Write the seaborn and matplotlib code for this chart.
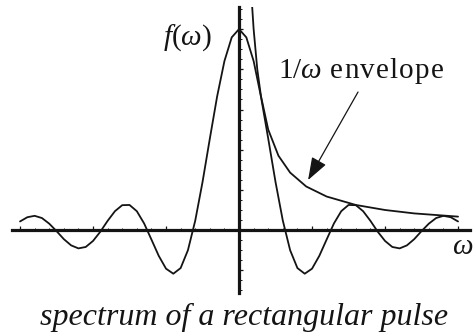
import matplotlib
matplotlib.use("Agg")
import matplotlib.pyplot as plt
import matplotlib.transforms as mtransforms
from matplotlib.ticker import MultipleLocator
import seaborn as sns
import pandas as pd

# f(omega) sampled every 0.5 from -15 to 15
omega = [x * 0.5 for x in range(-30, 31)]
f_right = [1.00, 0.959, 0.841, 0.665, 0.455, 0.239, 0.047, -0.100, -0.189, -0.217,
           -0.192, -0.128, -0.047, 0.033, 0.094, 0.125, 0.124, 0.094, 0.046, -0.008,
           -0.054, -0.084, -0.091, -0.076, -0.045, -0.005, 0.032, 0.060, 0.071, 0.064,
           0.043]
f_vals = f_right[:0:-1] + f_right

# 1/omega envelope
env_omega = [0.9, 1.0, 1.25, 1.5, 2.0, 2.7, 3.5, 4.6, 6.0, 8.0, 10.0, 12.0, 15.0]
env_vals = [1.111, 1.000, 0.800, 0.667, 0.500, 0.370, 0.286, 0.217, 0.167, 0.125,
            0.100, 0.083, 0.067]

spectrum = pd.DataFrame({"omega": omega, "f": f_vals})
envelope = pd.DataFrame({"omega": env_omega, "f": env_vals})

sns.set_style("white")
plt.rcParams["font.family"] = ["Liberation Serif", "DejaVu Serif"]
plt.rcParams["mathtext.fontset"] = "custom"
plt.rcParams["mathtext.rm"] = "Liberation Serif"
plt.rcParams["mathtext.it"] = "Liberation Serif:italic"

fig = plt.figure(figsize=(4.73, 3.34), dpi=100)
ax = fig.add_axes([12 / 473, 41 / 334, 458 / 473, 286 / 334])

ink = "#141414"
sns.lineplot(data=spectrum, x="omega", y="f", ax=ax, color=ink, lw=1.3,
             sort=False, estimator=None)
sns.lineplot(data=envelope, x="omega", y="f", ax=ax, color=ink, lw=1.3,
             sort=False, estimator=None)

ax.set_xlim(-15.55, 15.82)
ax.set_ylim(-0.313, 1.11)
ax.set_xlabel("")
ax.set_ylabel("")

# axes crossing at the origin
for side in ("top", "right"):
    ax.spines[side].set_visible(False)
ax.spines["left"].set_position(("data", 0))
ax.spines["bottom"].set_position(("data", 0))
for side in ("left", "bottom"):
    ax.spines[side].set_linewidth(2.3)
    ax.spines[side].set_color(ink)

ax.xaxis.set_major_locator(MultipleLocator(5))
ax.xaxis.set_minor_locator(MultipleLocator(1))
ax.yaxis.set_major_locator(MultipleLocator(0.2))
ax.yaxis.set_minor_locator(MultipleLocator(0.05))
ax.tick_params(which="both", direction="in", labelbottom=False, labelleft=False,
               color=ink, bottom=True, left=True)
ax.tick_params(which="major", length=3, width=0.9)
ax.tick_params(which="minor", length=1.8, width=0.7)

# labels
ax.text(-5.2, 0.958, r"$f(\omega)$", fontsize=21, color=ink, ha="left", va="center")
ax.text(14.6, -0.085, r"$\omega$", fontsize=21, color=ink, ha="left", va="center",
        clip_on=False)

# "1/ω envelope" with widened letter spacing
renderer = fig.canvas.get_renderer()
t = ax.text(2.67, 0.756, r"$1/\omega$", fontsize=21, color=ink, ha="left",
            va="baseline")
w = t.get_window_extent(renderer).width
offset = w + 8
for ch in "envelope":
    tr = mtransforms.offset_copy(ax.transData, fig=fig, x=offset * 72 / fig.dpi,
                                 y=0, units="points")
    c = ax.text(2.67, 0.756, ch, fontsize=21, color=ink, ha="left",
                va="baseline", transform=tr)
    offset += c.get_window_extent(renderer).width + 1.2

ax.annotate("", xy=(4.73, 0.249), xytext=(8.15, 0.687),
            arrowprops=dict(arrowstyle="-|>,head_length=1.4,head_width=0.5",
                            color=ink, lw=0.9, shrinkA=0, shrinkB=0))

fig.text(0.516, 0.027, "spectrum of a rectangular pulse", fontsize=23,
         style="italic", color=ink, ha="center", va="baseline")

fig.savefig("out.png", dpi=100)
